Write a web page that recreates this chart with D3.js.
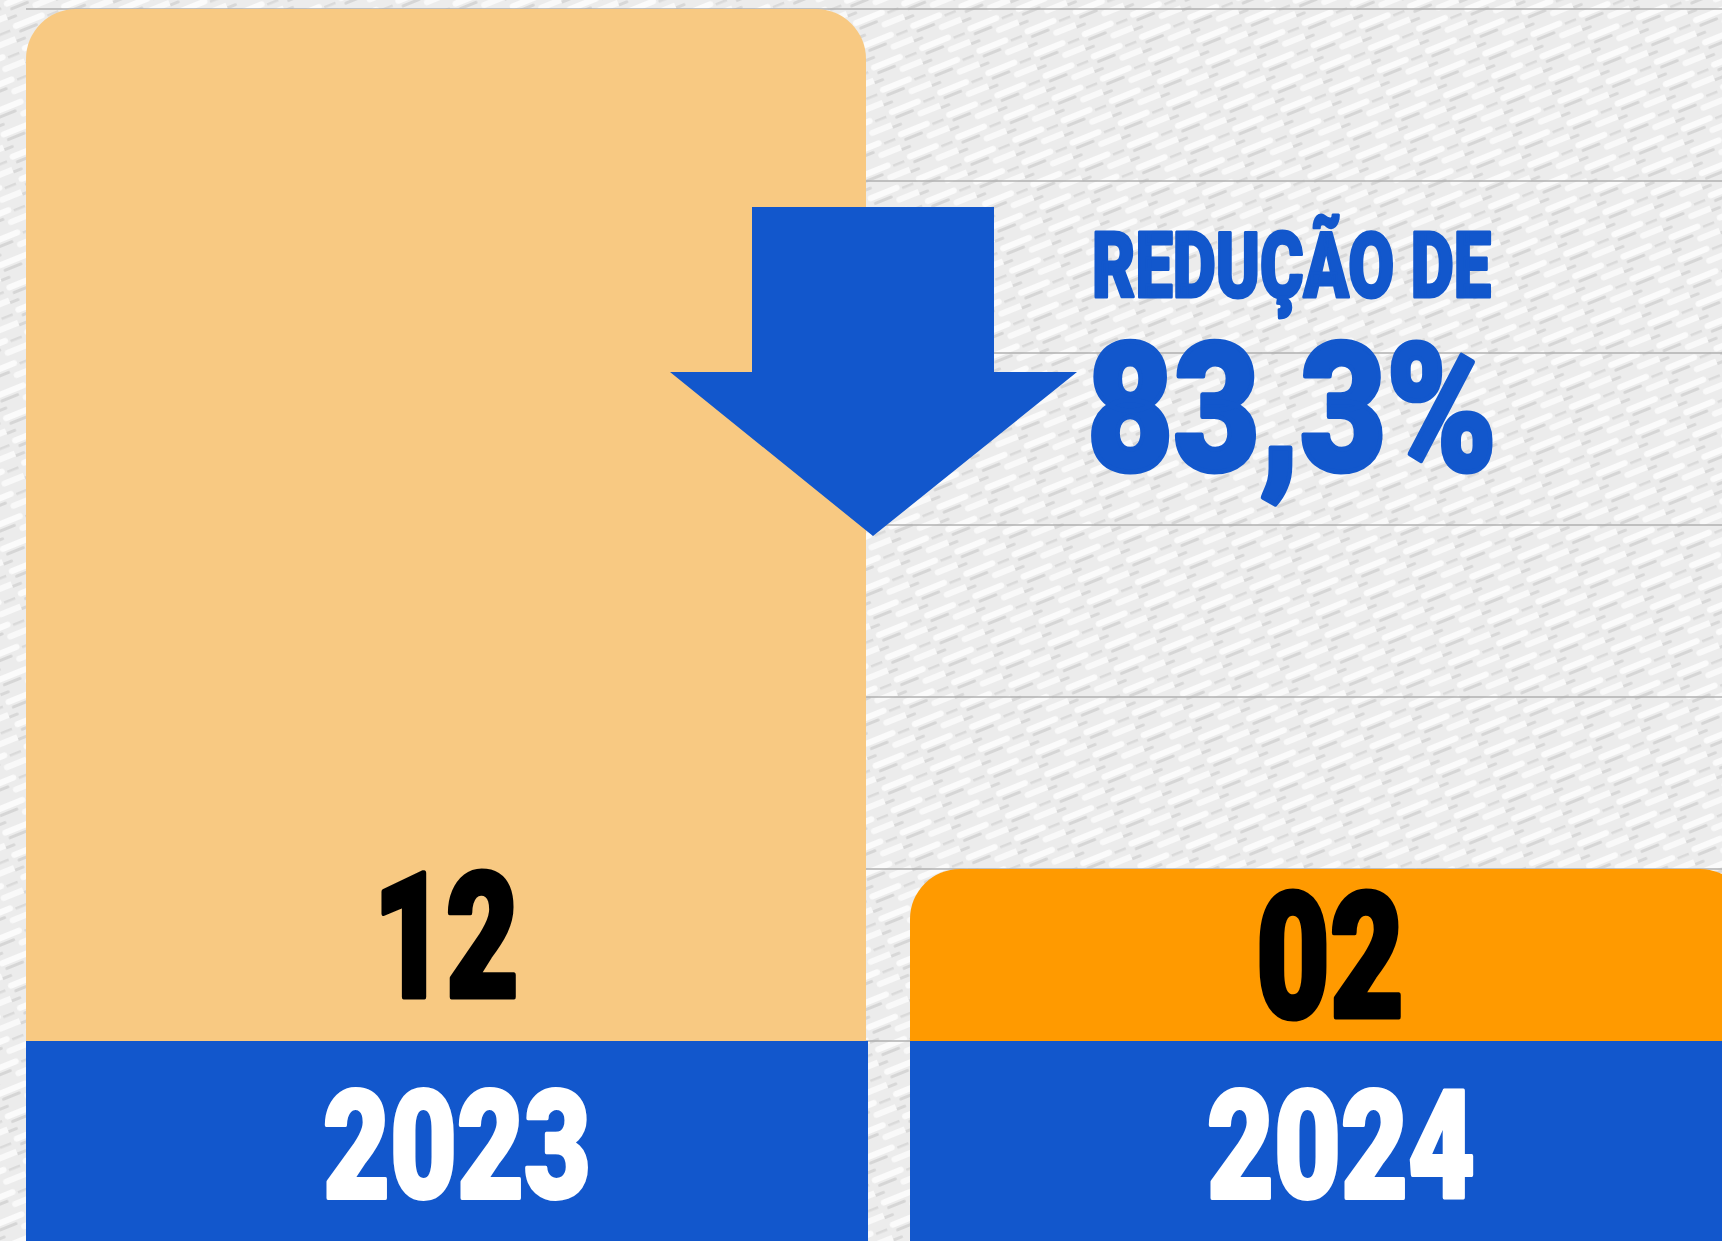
<!DOCTYPE html>
<html>
<head>
<meta charset="utf-8">
<script src="https://cdn.jsdelivr.net/npm/d3@7"></script>
<style>
  html, body { margin: 0; padding: 0; overflow: hidden; background: #f1f1f1; }
  svg { display: block; }
</style>
</head>
<body>
<script>
// dados
const years = ['2023', '2024'];
const values = [12, 2];
const valueLabels = ['12', '02'];
const gridTicks = [0, 2, 4, 6, 8, 10, 12];
const reductionTitle = 'REDUÇÃO DE';
const reductionValue = '83,3%';

const W = 1722, H = 1241;
const FONT = "Roboto, 'Liberation Sans', Arial, sans-serif";
const barColors = ['#f8c982', '#ff9a00'];
const blue = '#1257cc';

const svg = d3.select('body').append('svg')
    .attr('width', W)
    .attr('height', H);

// textura do fundo
const defs = svg.append('defs');
const pat = defs.append('pattern')
    .attr('id', 'tex')
    .attr('patternUnits', 'userSpaceOnUse')
    .attr('width', 52).attr('height', 24)
    .attr('patternTransform', 'rotate(-22)');
pat.append('rect').attr('width', 52).attr('height', 24).attr('fill', '#ececec');
pat.append('rect').attr('x', 2).attr('y', 3).attr('width', 34).attr('height', 6).attr('rx', 3).attr('fill', '#fbfbfb');
pat.append('rect').attr('x', 28).attr('y', 15).attr('width', 30).attr('height', 6).attr('rx', 3).attr('fill', '#f9f9f9');
pat.append('rect').attr('x', 6).attr('y', 11).attr('width', 20).attr('height', 3).attr('rx', 1.5).attr('fill', '#d6d6d6');
pat.append('rect').attr('x', 38).attr('y', 7).attr('width', 12).attr('height', 2.5).attr('fill', '#dadada');
pat.append('rect').attr('x', -14).attr('y', 19).attr('width', 24).attr('height', 3).attr('rx', 1.5).attr('fill', '#d8d8d8');

svg.append('rect').attr('width', W).attr('height', H).attr('fill', 'url(#tex)');

// escalas
const x = d3.scaleBand()
    .domain(years)
    .range([26, 1750])
    .paddingInner(44 / 884)
    .paddingOuter(0);

const y = d3.scaleLinear()
    .domain([0, 12])
    .range([1041, 9]);

// linhas de grade
svg.append('g')
    .selectAll('line')
    .data(gridTicks)
    .join('line')
    .attr('x1', 26).attr('x2', W)
    .attr('y1', d => y(d)).attr('y2', d => y(d))
    .attr('stroke', '#b0b0b0')
    .attr('stroke-width', 1.5);

// barras com cantos superiores arredondados
const r = 50;
function barPath(x0, w, yTop, yBot) {
  const p = d3.path();
  p.moveTo(x0, yBot);
  p.lineTo(x0, yTop + r);
  p.arcTo(x0, yTop, x0 + r, yTop, r);
  p.lineTo(x0 + w - r, yTop);
  p.arcTo(x0 + w, yTop, x0 + w, yTop + r, r);
  p.lineTo(x0 + w, yBot);
  p.closePath();
  return p.toString();
}

svg.append('g')
    .selectAll('path')
    .data(years)
    .join('path')
    .attr('d', (d, i) => barPath(x(d), x.bandwidth(), y(values[i]), y(0)))
    .attr('fill', (d, i) => barColors[i]);

// faixas azuis com os anos
svg.append('g')
    .selectAll('rect')
    .data(years)
    .join('rect')
    .attr('x', d => x(d))
    .attr('y', y(0))
    .attr('width', x.bandwidth() + 2)
    .attr('height', H - y(0))
    .attr('fill', blue);

// texto "pesado": traço da mesma cor engrossa a fonte
function heavy(sel, color, sw) {
  sel.attr('font-family', FONT)
     .attr('font-weight', 900)
     .attr('lengthAdjust', 'spacingAndGlyphs')
     .attr('fill', color)
     .attr('stroke', color)
     .attr('stroke-width', sw)
     .attr('stroke-linejoin', 'round');
}

svg.append('g')
    .selectAll('text')
    .data(years)
    .join('text')
    .attr('x', d => x(d) + x.bandwidth() / 2 + 11)
    .attr('y', 1198)
    .attr('text-anchor', 'middle')
    .attr('font-size', 150)
    .attr('textLength', 268)
    .call(heavy, '#fff', 4)
    .text(d => d);

// rótulos de valor
const labelBase = [997, 1017];
svg.append('g')
    .selectAll('text')
    .data(years)
    .join('text')
    .attr('x', d => x(d) + x.bandwidth() / 2)
    .attr('y', (d, i) => labelBase[i])
    .attr('text-anchor', 'middle')
    .attr('font-size', 174)
    .attr('textLength', (d, i) => i === 0 ? 146 : 148)
    .call(heavy, '#000', 5)
    .text((d, i) => valueLabels[i]);

// seta para baixo
const ax = x(years[0]) + x.bandwidth() + 7;
const arrow = [
  [ax - 121, 207], [ax + 121, 207], [ax + 121, 372], [ax + 204, 372],
  [ax, 536], [ax - 203, 372], [ax - 121, 372]
];
svg.append('path')
    .attr('d', d3.line()(arrow) + 'Z')
    .attr('fill', blue);

// texto da redução
svg.append('text')
    .attr('x', 1092)
    .attr('y', 297)
    .attr('font-size', 90)
    .attr('textLength', 399)
    .call(heavy, blue, 3)
    .text(reductionTitle);

svg.append('text')
    .attr('x', 1087)
    .attr('y', 470)
    .attr('font-size', 178)
    .attr('textLength', 410)
    .call(heavy, blue, 5)
    .text(reductionValue);
</script>
</body>
</html>
